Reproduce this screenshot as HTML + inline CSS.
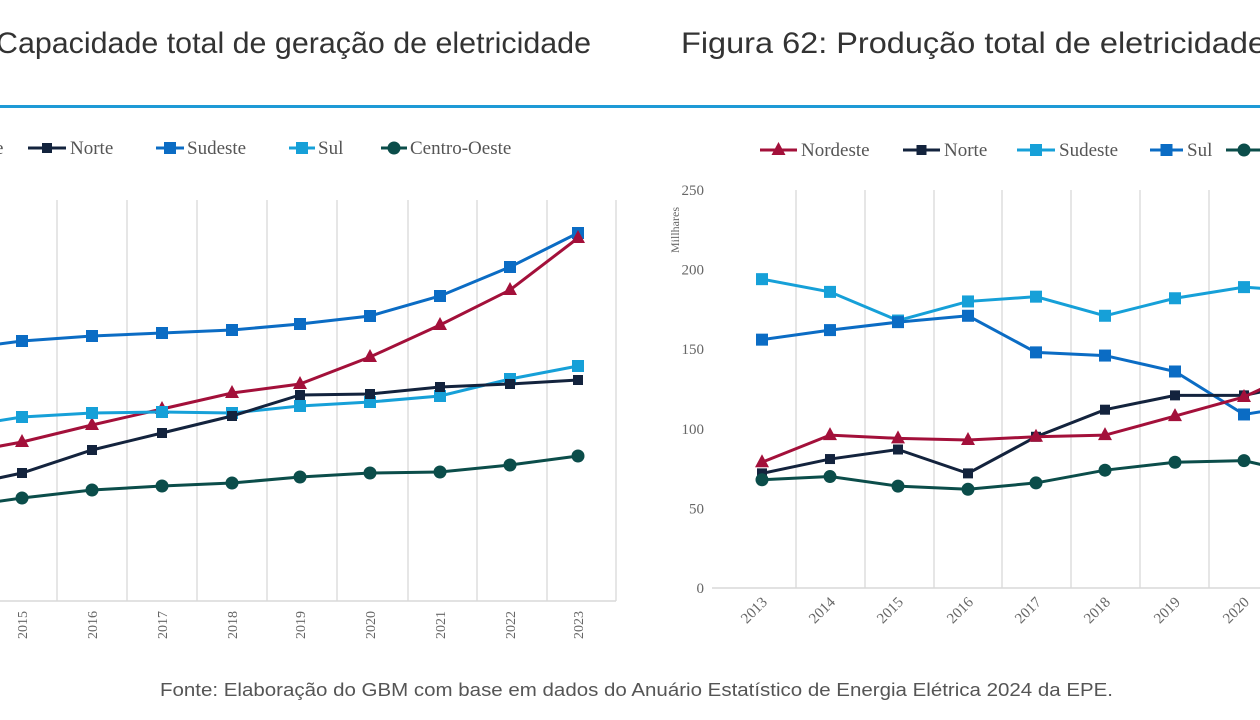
<!DOCTYPE html>
<html><head><meta charset="utf-8"><style>
html,body{margin:0;padding:0;background:#fff;width:1260px;height:720px;overflow:hidden}
svg{display:block}
</style></head><body>
<svg id="s" width="1260" height="720" xmlns="http://www.w3.org/2000/svg">
<text x="-4" y="53" font-family="Liberation Sans, sans-serif" font-size="30" fill="#333" textLength="595" lengthAdjust="spacingAndGlyphs">Capacidade total de geração de eletricidade</text>
<text x="681" y="53" font-family="Liberation Sans, sans-serif" font-size="30" fill="#333" textLength="585" lengthAdjust="spacingAndGlyphs">Figura 62: Produção total de eletricidade</text>
<rect x="0" y="105" width="1260" height="3" fill="#1e9ad6"/>
<text x="160" y="696" font-family="Liberation Sans, sans-serif" font-size="18" fill="#555" textLength="953" lengthAdjust="spacingAndGlyphs">Fonte: Elaboração do GBM com base em dados do Anuário Estatístico de Energia Elétrica 2024 da EPE.</text>
<g id="g"></g>
</svg>
<script>
const g=document.getElementById('g');const NS='http://www.w3.org/2000/svg';
function el(t,a,txt){const e=document.createElementNS(NS,t);for(const k in a)e.setAttribute(k,a[k]);if(txt!==undefined)e.textContent=txt;g.appendChild(e);return e;}
const C={red:'#a3103a',dark:'#13233d',blue:'#0b6cc4',light:'#16a0d8',teal:'#0b4d4a'};
function marker(type,x,y,c){
 if(type==='sq')el('rect',{x:x-6,y:y-6,width:12,height:12,fill:c});
 else if(type==='sqs')el('rect',{x:x-5,y:y-5,width:10,height:10,fill:c});
 else if(type==='tri')el('polygon',{points:`${x},${y-8} ${x+7},${y+5} ${x-7},${y+5}`,fill:c});
 else el('circle',{cx:x,cy:y,r:6.5,fill:c});
}
function series(xs,ys,c,type,first){
 el('polyline',{points:xs.map((x,i)=>x+','+ys[i]).join(' '),fill:'none',stroke:c,'stroke-width':3});
 xs.forEach((x,i)=>{if(i>=first)marker(type,x,ys[i],c)});
}
function leg(x1,x2,y,c,type,tx,label){
 el('line',{x1:x1,y1:y,x2:x2,y2:y,stroke:c,'stroke-width':3});marker(type,(x1+x2)/2,y,c);
 el('text',{x:tx,y:y+6,'font-family':'Liberation Serif, serif','font-size':19,fill:'#555'},label);
}
// LEFT CHART
[57,127,197,267,337,408,477,547].forEach(x=>el('line',{x1:x,y1:200,x2:x,y2:601,stroke:'#ddd','stroke-width':1.5}));
el('line',{x1:616,y1:200,x2:616,y2:601,stroke:'#ddd','stroke-width':1.5});
el('line',{x1:0,y1:601,x2:616,y2:601,stroke:'#d9d9d9','stroke-width':1.5});
const LX=[-48,22,92,162,232,300,370,440,510,578];
series(LX,[350,341,336,333,330,324,316,296,267,233],C.blue,'sq',1);
series(LX,[455,442,425,409,393,384,357,325,290,238],C.red,'tri',1);
series(LX,[428,417,413,412,413,406,402,396,379,366],C.light,'sq',1);
series(LX,[488,473,450,433,416,395,394,387,384,380],C.dark,'sqs',1);
series(LX,[508,498,490,486,483,477,473,472,465,456],C.teal,'c',1);
['2015','2016','2017','2018','2019','2020','2021','2022','2023'].forEach((t,i)=>{
 const x=LX[i+1]+5;el('text',{x:0,y:0,transform:`translate(${x},611) rotate(-90)`,'text-anchor':'end','font-family':'Liberation Serif, serif','font-size':14,fill:'#666'},t);});
el('text',{x:-5,y:154,'font-family':'Liberation Serif, serif','font-size':19,fill:'#555'},'e');
leg(28,66,148,C.dark,'sqs',70,'Norte');
leg(156,184,148,C.blue,'sq',187,'Sudeste');
leg(289,315,148,C.light,'sq',318,'Sul');
leg(381,407,148,C.teal,'c',410,'Centro-Oeste');
// RIGHT CHART
const y0=588,k=1.592;const Y=v=>y0-v*k;
[796,865,934,1002,1071,1140,1209].forEach(x=>el('line',{x1:x,y1:190,x2:x,y2:588,stroke:'#ddd','stroke-width':1.5}));
el('line',{x1:712,y1:588,x2:1260,y2:588,stroke:'#d9d9d9','stroke-width':1.5});
[0,50,100,150,200,250].forEach(v=>el('text',{x:704,y:Y(v)+5,'text-anchor':'end','font-family':'Liberation Serif, serif','font-size':15,fill:'#666'},v));
el('text',{x:0,y:0,transform:'translate(679,253) rotate(-90)','font-family':'Liberation Serif, serif','font-size':12,fill:'#666','text-anchor':'start'},'Millhares');
const RX=[762,830,898,968,1036,1105,1175,1244,1313];
series(RX,[194,186,168,180,183,171,182,189,186].map(Y),C.light,'sq',0);
series(RX,[156,162,167,171,148,146,136,109,116].map(Y),C.blue,'sq',0);
series(RX,[72,81,87,72,95,112,121,121,130].map(Y),C.dark,'sqs',0);
series(RX,[79,96,94,93,95,96,108,120,140].map(Y),C.red,'tri',0);
series(RX,[68,70,64,62,66,74,79,80,70].map(Y),C.teal,'c',0);
['2013','2014','2015','2016','2017','2018','2019','2020'].forEach((t,i)=>{
 el('text',{x:0,y:0,transform:`translate(${RX[i]+6},603) rotate(-45)`,'text-anchor':'end','font-family':'Liberation Serif, serif','font-size':15,fill:'#666'},t);});
leg(760,797,150,C.red,'tri',801,'Nordeste');
leg(903,940,150,C.dark,'sqs',944,'Norte');
leg(1017,1055,150,C.light,'sq',1059,'Sudeste');
leg(1150,1183,150,C.blue,'sq',1187,'Sul');
leg(1226,1262,150,C.teal,'c',1270,'Centro-Oeste');
</script>
</body></html>
